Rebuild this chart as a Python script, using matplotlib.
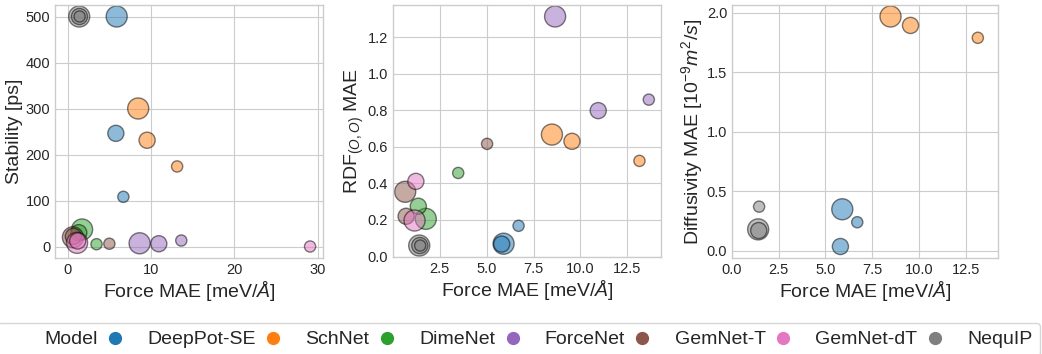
import matplotlib
matplotlib.use('Agg')
import matplotlib.pyplot as plt
from matplotlib.lines import Line2D
import numpy as np

# one row per model, columns = large / medium / small training run
models = ['DeepPot-SE', 'SchNet', 'DimeNet', 'ForceNet', 'GemNet-T', 'GemNet-dT', 'NequIP']
colors = ['tab:blue', 'tab:orange', 'tab:green', 'tab:purple', 'tab:brown', 'tab:pink', 'tab:gray']
run_sizes = [230, 135, 65]

force_mae = [
    [5.90, 5.80, 6.70],
    [8.48, 9.55, 13.15],
    [1.75, 1.35, 3.48],
    [8.65, 10.95, 13.65],
    [0.65, 0.70, 5.02],
    [1.15, 1.22, 29.1],
    [1.40, 1.43, 1.45],
]
stability = [
    [500, 246, 108],
    [300, 231, 174],
    [37, 30, 5],
    [7, 6, 13],
    [20, 22, 6],
    [8, 12, 0],
    [500, 500, 500],
]
rdf_mae = [
    [0.070, 0.068, 0.168],
    [0.667, 0.630, 0.523],
    [0.206, 0.275, 0.457],
    [1.313, 0.798, 0.858],
    [0.354, 0.220, 0.616],
    [0.197, 0.411, np.nan],
    [0.060, 0.060, 0.060],
]
diffusivity_mae = [
    [0.349, 0.036, 0.240],
    [1.969, 1.894, 1.790],
    [np.nan, np.nan, np.nan],
    [np.nan, np.nan, np.nan],
    [np.nan, np.nan, np.nan],
    [np.nan, np.nan, np.nan],
    [0.180, 0.170, 0.371],
]

plt.style.use('seaborn-v0_8-whitegrid')
plt.rcParams['font.family'] = ['Liberation Sans', 'DejaVu Sans']
plt.rcParams['mathtext.fontset'] = 'custom'
plt.rcParams['mathtext.rm'] = 'Liberation Sans'
plt.rcParams['mathtext.it'] = 'Liberation Sans:italic'
plt.rcParams['xtick.labelsize'] = 10.5
plt.rcParams['ytick.labelsize'] = 10.5
plt.rcParams['axes.labelsize'] = 14
plt.rcParams['axes.labelpad'] = 1.5

W, H = 1042, 354
fig = plt.figure(figsize=(W / 100, H / 100), dpi=100)
ax1 = fig.add_axes([55 / W, 96 / H, 268 / W, 253 / H])
ax2 = fig.add_axes([393 / W, 97 / H, 268 / W, 252 / H])
ax3 = fig.add_axes([732 / W, 96 / H, 266 / W, 253 / H])


def draw(ax, values):
    for i in range(len(models)):
        ax.scatter(force_mae[i], values[i], s=run_sizes, color=colors[i],
                   alpha=0.5, edgecolors='k', linewidths=1.0)
    ax.set_xlabel('Force MAE [meV/$Å$]')


draw(ax1, stability)
ax1.set_ylabel('Stability [ps]')
ax1.set_xlim(-1.5, 30.65)
ax1.set_xticks([0, 10, 20, 30])

draw(ax2, rdf_mae)
ax2.set_ylabel('RDF$_{(O,O)}$ MAE')
ax2.set_xticks([2.5, 5.0, 7.5, 10.0, 12.5])

draw(ax3, diffusivity_mae)
ax3.set_ylabel('Diffusivity MAE [$10^{-9} m^2/s$]')
ax3.set_xlim(0.0, 14.23)
ax3.set_xticks([0.0, 2.5, 5.0, 7.5, 10.0, 12.5])
ax3.set_yticks([0.0, 0.5, 1.0, 1.5, 2.0])

for ax in (ax1, ax2, ax3):
    for sp in ax.spines.values():
        sp.set_color('0.8')

handles = [Line2D([], [], linestyle='none', marker='')]
handles += [Line2D([], [], linestyle='none', marker='o', markersize=8.5, color=c)
            for c in colors]
fig.legend(handles, ['Model'] + models, ncol=8, loc='upper right',
           bbox_to_anchor=(1040 / W, 31 / H), frameon=True, edgecolor='0.8',
           fontsize=14, handlelength=0.8, handletextpad=1.25, columnspacing=0.5,
           borderpad=0.4, borderaxespad=0)

fig.savefig('out.png', dpi=100)
